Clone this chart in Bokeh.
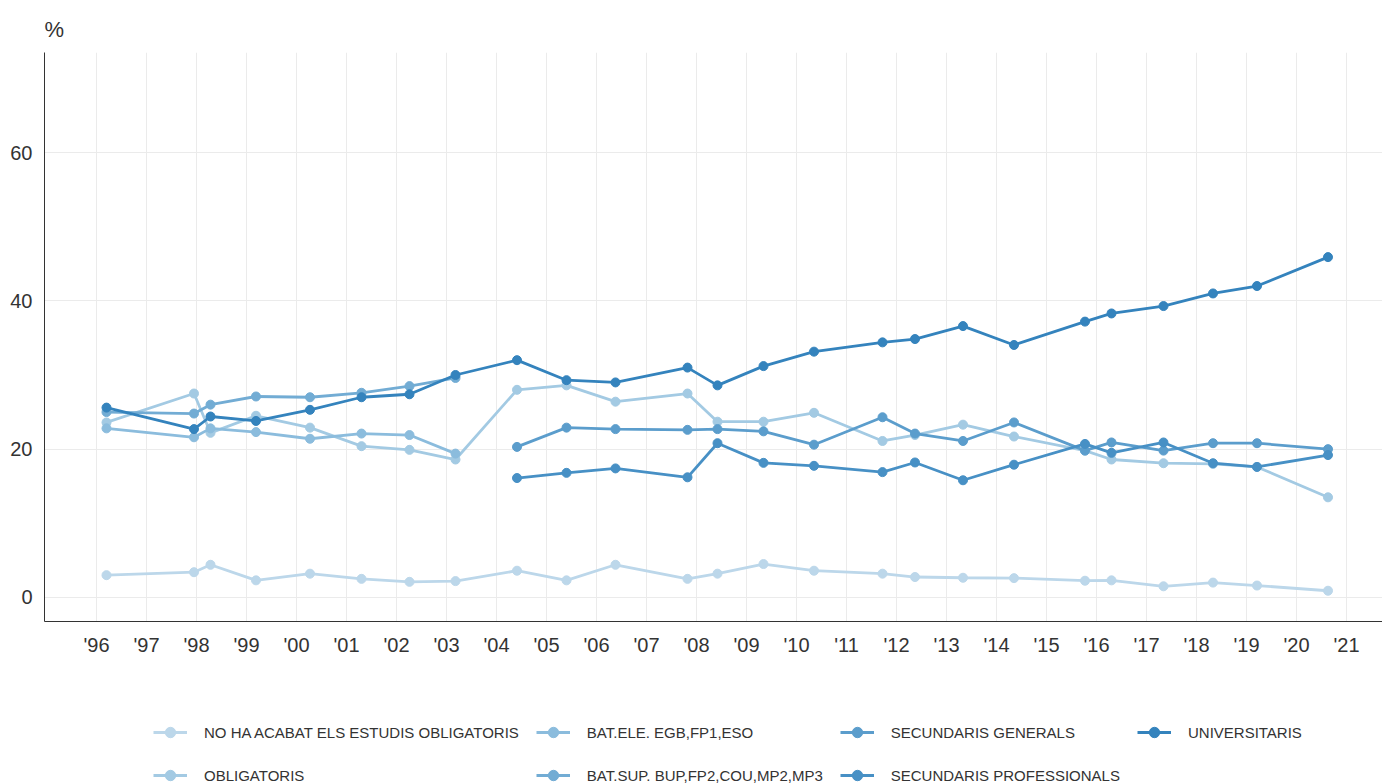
from bokeh.plotting import figure
from bokeh.models import Legend, LegendItem, FixedTicker, Range1d
from bokeh.layouts import column
from bokeh.embed import file_html
from bokeh.resources import INLINE

# survey dates (decimal years)
dates = [1996.2, 1997.95, 1998.28, 1999.19, 2000.27, 2001.3, 2002.26, 2003.18,
         2004.41, 2005.4, 2006.38, 2007.82, 2008.42, 2009.34, 2010.35, 2011.72,
         2012.37, 2013.33, 2014.35, 2015.77, 2016.3, 2017.34, 2018.33, 2019.21, 2020.63]
dates_old = dates[:8]
dates_new = dates[8:]

no_ha_acabat = [3.0, 3.4, 4.4, 2.3, 3.2, 2.5, 2.1, 2.2, 3.6, 2.3, 4.4, 2.5, 3.2,
                4.5, 3.6, 3.2, 2.75, 2.65, 2.6, 2.25, 2.3, 1.5, 2.0, 1.6, 0.9]
obligatoris = [23.6, 27.5, 22.2, 24.5, 22.9, 20.4, 19.9, 18.6, 28.0, 28.6, 26.4, 27.5,
               23.7, 23.7, 24.9, 21.1, 21.9, 23.3, 21.7, 19.8, 18.6, 18.1, 18.0, 17.6, 13.5]
bat_ele = [22.8, 21.6, 22.8, 22.3, 21.4, 22.1, 21.9, 19.4]
bat_sup = [25.0, 24.8, 26.0, 27.1, 27.0, 27.6, 28.5, 29.6]
sec_generals = [20.3, 22.9, 22.7, 22.6, 22.7, 22.4, 20.6, 24.3, 22.1, 21.1, 23.6,
                19.8, 20.9, 19.8, 20.8, 20.8, 20.0]
sec_professionals = [16.1, 16.8, 17.4, 16.2, 20.8, 18.15, 17.75, 16.9, 18.2, 15.8,
                     17.9, 20.7, 19.5, 20.9, 18.1, 17.6, 19.2]
universitaris = [25.6, 22.7, 24.4, 23.8, 25.3, 27.0, 27.4, 30.0, 32.0, 29.3, 29.0, 31.0,
                 28.6, 31.2, 33.15, 34.4, 34.85, 36.6, 34.05, 37.2, 38.3, 39.3, 41.0, 42.0, 45.9]

names = ["NO HA ACABAT ELS ESTUDIS OBLIGATORIS", "OBLIGATORIS", "BAT.ELE. EGB,FP1,ESO",
         "BAT.SUP. BUP,FP2,COU,MP2,MP3", "SECUNDARIS GENERALS", "SECUNDARIS PROFESSIONALS",
         "UNIVERSITARIS"]
colors = ["#bcd7ea", "#a3cae3", "#8bbcdd", "#72acd4", "#5b9dcc", "#4790c5", "#3483bd"]
series_x = [dates, dates, dates_old, dates_old, dates_new, dates_new, dates]
series_y = [no_ha_acabat, obligatoris, bat_ele, bat_sup, sec_generals, sec_professionals, universitaris]

year_ticks = list(range(1996, 2022))
year_labels = ["'%02d" % (y % 100) for y in year_ticks]
y_ticks = [0, 20, 40, 60]

FONT = "Liberation Sans"
TXT = "#333333"

# ---------------- main chart ----------------
p = figure(width=1382, height=659, output_backend="svg", toolbar_location=None,
           x_range=Range1d(1994.96, 2021.72), y_range=Range1d(-3.25, 73.5))
p.min_border_left = 44
p.min_border_right = 0
p.min_border_top = 52
p.min_border_bottom = 38
p.outline_line_color = None
p.background_fill_color = "white"
p.border_fill_color = "white"

p.title.text = "%"
p.title.text_font = FONT
p.title.text_font_size = "22px"
p.title.text_font_style = "normal"
p.title.text_color = TXT
p.title.align = "left"
p.title.standoff = 22

p.xaxis.ticker = FixedTicker(ticks=year_ticks)
p.xaxis.major_label_overrides = {t: l for t, l in zip(year_ticks, year_labels)}
p.yaxis.ticker = FixedTicker(ticks=y_ticks)
for ax in (p.xaxis, p.yaxis):
    ax.major_tick_out = 0
    ax.major_tick_in = 0
    ax.minor_tick_out = 0
    ax.minor_tick_in = 0
    ax.axis_line_color = "#333333"
    ax.axis_line_width = 1
    ax.major_label_text_font = FONT
    ax.major_label_text_font_size = "20px"
    ax.major_label_text_color = TXT
p.xaxis.major_label_standoff = 12
p.yaxis.major_label_standoff = 12

p.xgrid.ticker = FixedTicker(ticks=year_ticks)
p.ygrid.ticker = FixedTicker(ticks=y_ticks)
p.xgrid.grid_line_color = "#ebebeb"
p.ygrid.grid_line_color = "#ebebeb"

for name, c, xs, ys in zip(names, colors, series_x, series_y):
    p.line(xs, ys, line_color=c, line_width=2.8)
    p.scatter(xs, ys, size=9, fill_color=c, line_color=c)

# ---------------- legend strip ----------------
lg = figure(width=1382, height=124, output_backend="svg", toolbar_location=None,
            x_axis_type=None, y_axis_type=None, title=None,
            x_range=Range1d(0, 1), y_range=Range1d(0, 1))
lg.min_border_left = 0
lg.min_border_right = 0
lg.min_border_top = 0
lg.min_border_bottom = 0
lg.outline_line_color = None
lg.xgrid.visible = False
lg.ygrid.visible = False

nan = float("nan")
items = {}
for name, c in zip(names, colors):
    lr = lg.line(x=[nan], y=[nan], line_color=c, line_width=2.8)
    sr = lg.scatter(x=[nan], y=[nan], size=8, fill_color=c, line_color=c)
    items[name] = LegendItem(label=name, renderers=[lr, sr])

order = ["NO HA ACABAT ELS ESTUDIS OBLIGATORIS", "BAT.ELE. EGB,FP1,ESO", "SECUNDARIS GENERALS",
         "UNIVERSITARIS", "OBLIGATORIS", "BAT.SUP. BUP,FP2,COU,MP2,MP3", "SECUNDARIS PROFESSIONALS"]
legend = Legend(items=[items[n] for n in order], orientation="horizontal", ncols=4,
                location=(109, -5))
legend.label_text_font = FONT
legend.label_text_font_size = "15px"
legend.label_text_color = TXT
legend.glyph_width = 34
legend.glyph_height = 26
legend.label_height = 26
legend.label_standoff = 17
legend.spacing = 17
legend.padding = 0
legend.margin = 0
legend.border_line_color = None
legend.background_fill_alpha = 0
lg.add_layout(legend)

open("out.html", "w").write(file_html(column(p, lg), INLINE))
